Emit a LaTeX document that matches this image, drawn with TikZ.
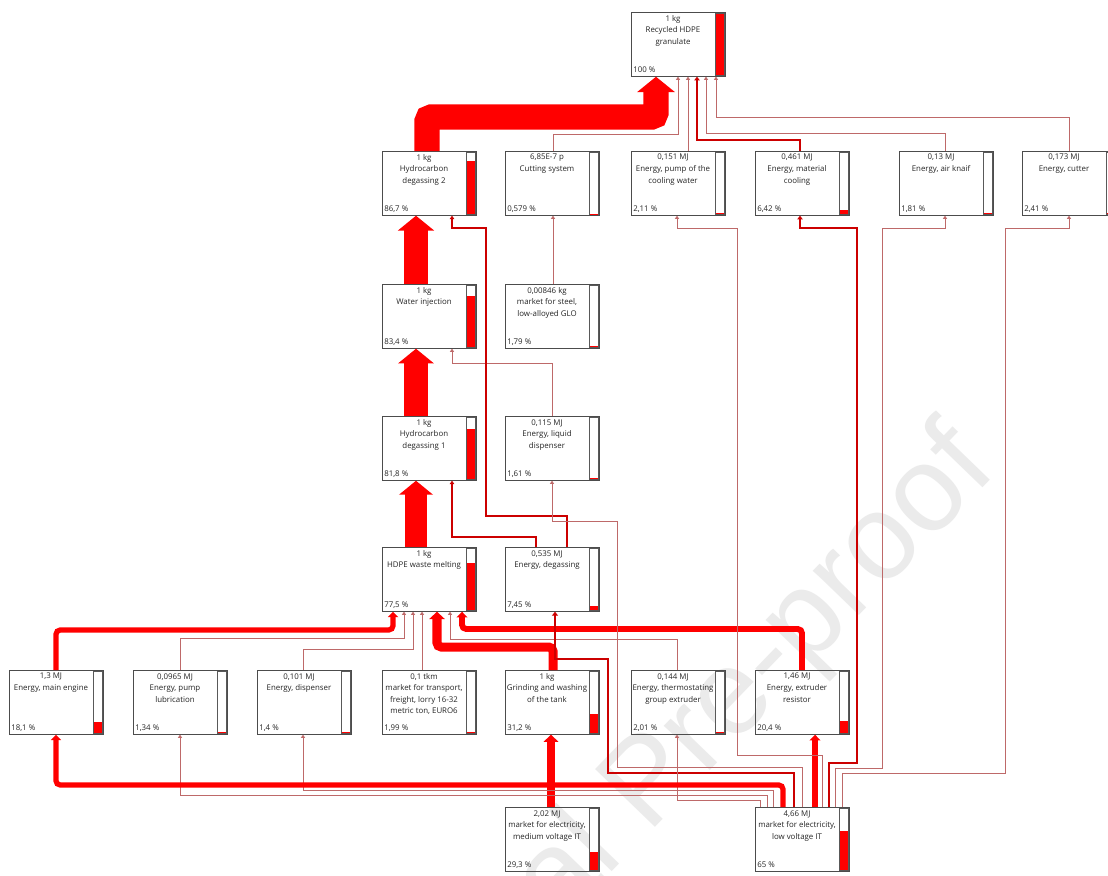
\documentclass[tikz,border=0pt]{standalone}
\usepackage{fontspec}
\setmainfont{Open Sans}
\newfontfamily\wmfont{Liberation Sans}
\usetikzlibrary{arrows.meta,calc}

\begin{document}
\begin{tikzpicture}[x=0.025cm,y=-0.025cm,
  procbox/.style={draw=black!70,line width=0.5pt,minimum width=2.35cm,minimum height=1.6cm,anchor=north west,inner sep=0pt},
  boxtext/.style={anchor=north,inner sep=0pt,align=center,font=\fontsize{5.6}{8.2}\selectfont,text=black!85},
  pcttext/.style={anchor=base west,inner sep=0pt,font=\fontsize{5.6}{8.2}\selectfont,text=black!85},
  barframe/.style={draw=black!65,line width=0.5pt,fill=white},
  flowtip/.style={-{Triangle[length=2pt 0.5,width=2.2pt 1.35]}},
  flowbig/.style={flowtip,draw=red,line width=#1*0.2056pt,rounded corners=3pt},
  flowmid/.style={flowtip,draw=red!80!black,line width=#1*0.2056pt},
  flowthin/.style={flowtip,draw={rgb,255:red,190;green,105;blue,105},line width=0.55pt},
  watermark/.style={anchor=base east,rotate=46,text=black!8,font=\wmfont\fontsize{86}{86}\selectfont}]
  \useasboundingbox (0,0) rectangle (1108,875);
  \clip (0,0) rectangle (1108,875);
  \fill[white] (0,0) rectangle (1108,875);
  \node[watermark] (wm) at (1002,468) {Journal Pre-proof};

  \foreach \n/\x/\y/\txt/\pct/\fr in {
    top/631/12/{1 kg\\Recycled HDPE\\granulate}/{100 \%}/1,
    hd2/382/151/{1 kg\\Hydrocarbon\\degassing 2}/{86,7 \%}/0.867,
    cut/505/151/{6,85E-7 p\\Cutting system}/{0,579 \%}/0.00579,
    pcw/631/151/{0,151 MJ\\Energy, pump of the\\cooling water}/{2,11 \%}/0.0211,
    mco/755/151/{0,461 MJ\\Energy, material\\cooling}/{6,42 \%}/0.0642,
    air/899/151/{0,13 MJ\\Energy, air knaif}/{1,81 \%}/0.0181,
    ctr/1022/151/{0,173 MJ\\Energy, cutter}/{2,41 \%}/0.0241,
    wat/382/284/{1 kg\\Water injection}/{83,4 \%}/0.834,
    stl/505/284/{0,00846 kg\\market for steel,\\low-alloyed GLO}/{1,79 \%}/0.0179,
    hd1/382/416/{1 kg\\Hydrocarbon\\degassing 1}/{81,8 \%}/0.818,
    liq/505/416/{0,115 MJ\\Energy, liquid\\dispenser}/{1,61 \%}/0.0161,
    mel/382/547/{1 kg\\HDPE waste melting}/{77,5 \%}/0.775,
    deg/505/547/{0,535 MJ\\Energy, degassing}/{7,45 \%}/0.0745,
    eng/9/670/{1,3 MJ\\Energy, main engine}/{18,1 \%}/0.181,
    lub/133/670/{0,0965 MJ\\Energy, pump\\lubrication}/{1,34 \%}/0.0134,
    dis/257/670/{0,101 MJ\\Energy, dispenser}/{1,4 \%}/0.014,
    trn/382/670/{0,1 tkm\\market for transport,\\freight, lorry 16-32\\metric ton, EURO6}/{1,99 \%}/0.0199,
    grd/505/670/{1 kg\\Grinding and washing\\of the tank}/{31,2 \%}/0.312,
    thr/631/670/{0,144 MJ\\Energy, thermostating\\group extruder}/{2,01 \%}/0.0201,
    ext/755/670/{1,46 MJ\\Energy, extruder\\resistor}/{20,4 \%}/0.204,
    mvo/505/807/{2,02 MJ\\market for electricity,\\medium voltage IT}/{29,3 \%}/0.293,
    lvo/755/807/{4,66 MJ\\market for electricity,\\low voltage IT}/{65 \%}/0.65}{
    \node[procbox] (\n) at (\x,\y) {};
    \node[boxtext] (\n-t) at ($(\n.north west)+(42,3)$) {\txt};
    \node[pcttext] (\n-p) at ($(\n.south west)+(2,-4)$) {\pct};
    \draw[barframe] ($(\n.north east)+(-10,1.5)$) rectangle ($(\n.south east)+(-1.5,-1.5)$);
    \fill[red] ($(\n.south east)+(-10,-1.5)$) rectangle ($(\n.south east)+(-1.5,-1.5-61*\fr)$);
  }

  \draw[flowbig=86.7] ($(hd2.north west)+(45,0)$) -- ++(0,-34) -| ($(top.south west)+(25,0)$);
  \draw[flowthin] ($(cut.north west)+(48,0)$) -- ++(0,-17) -| ($(top.south west)+(47,0)$);
  \draw[flowthin] ($(pcw.north west)+(57,0)$) -- ($(top.south west)+(57,0)$);
  \draw[flowmid=6.42] ($(mco.north west)+(45,0)$) -- ++(0,-11) -| ($(top.south west)+(66,0)$);
  \draw[flowthin] ($(air.north west)+(46,0)$) -- ++(0,-18) -| ($(top.south west)+(75,0)$);
  \draw[flowthin] ($(ctr.north west)+(47,0)$) -- ++(0,-34) -| ($(top.south west)+(85,0)$);

  \draw[flowbig=83.4] ($(wat.north west)+(34,0)$) -- ($(hd2.south west)+(34,0)$);
  \draw[flowthin] ($(stl.north west)+(48,0)$) -- ($(cut.south west)+(48,0)$);
  \draw[flowbig=81.8] ($(hd1.north west)+(34,0)$) -- ($(wat.south west)+(34,0)$);
  \draw[flowthin] ($(liq.north west)+(47,0)$) -- ++(0,-53) -| ($(wat.south west)+(70,0)$);
  \draw[flowbig=77.5] ($(mel.north west)+(34,0)$) -- ($(hd1.south west)+(34,0)$);
  \draw[flowmid=3.7] ($(deg.north west)+(31,0)$) -- ++(0,-10) -| ($(hd1.south west)+(70,0)$);
  \draw[flowmid=3.7] ($(deg.north west)+(62,0)$) -- ++(0,-31) -- ++(-81,0) -- ++(0,-288) -| ($(hd2.south west)+(70,0)$);

  \draw[flowbig=18.1] ($(eng.north west)+(47,0)$) -- ++(0,-40) -| ($(mel.south west)+(11,0)$);
  \draw[flowthin] ($(lub.north west)+(47,0)$) -- ++(0,-32) -| ($(mel.south west)+(22,0)$);
  \draw[flowthin] ($(dis.north west)+(46,0)$) -- ++(0,-21) -| ($(mel.south west)+(31,0)$);
  \draw[flowthin] ($(trn.north west)+(40,0)$) -- ($(mel.south west)+(40,0)$);
  \draw[flowbig=31.2] ($(grd.north west)+(48,0)$) -- ++(0,-23) -| ($(mel.south west)+(55,0)$);
  \draw[flowthin] ($(thr.north west)+(46,0)$) -- ++(0,-31) -| ($(mel.south west)+(68,0)$);
  \draw[flowbig=20.4] ($(ext.north west)+(47,0)$) -- ++(0,-41) -| ($(mel.south west)+(80,0)$);

  \draw[flowbig=29.3] ($(mvo.north west)+(46,0)$) -- ($(grd.south west)+(46,0)$);
  \draw[flowmid=7.45] ($(lvo.north west)+(39,0)$) -- ++(0,-34) -- ++(-186,0) -- ++(0,-114) -| ($(deg.south west)+(50,0)$);
  \draw[flowthin] ($(lvo.north west)+(47,0)$) -- ++(0,-40) -- ++(-185,0) -- ++(0,-246) -| ($(liq.south west)+(47,0)$);
  \draw[flowthin] ($(lvo.north west)+(5,0)$) -- ++(0,-7) -| ($(thr.south west)+(46,0)$);
  \draw[flowthin] ($(lvo.north west)+(12,0)$) -- ++(0,-12) -| ($(lub.south west)+(47,0)$);
  \draw[flowthin] ($(lvo.north west)+(18,0)$) -- ++(0,-17) -| ($(dis.south west)+(46,0)$);
  \draw[flowbig=18.1] ($(lvo.north west)+(28,0)$) -- ++(0,-22) -| ($(eng.south west)+(47,0)$);
  \draw[flowbig=20.4] ($(lvo.north west)+(60,0)$) -- ($(ext.south west)+(60,0)$);
  \draw[flowthin] ($(lvo.north west)+(67,0)$) -- ++(0,-52) -- ++(-85,0) -- ++(0,-527) -| ($(pcw.south west)+(46,0)$);
  \draw[flowmid=6.42] ($(lvo.north west)+(74,0)$) -- ++(0,-44) -- ++(28,0) -- ++(0,-535) -| ($(mco.south west)+(45,0)$);
  \draw[flowthin] ($(lvo.north west)+(80,0)$) -- ++(0,-39) -- ++(47,0) -- ++(0,-540) -| ($(air.south west)+(46,0)$);
  \draw[flowthin] ($(lvo.north west)+(87,0)$) -- ++(0,-34) -- ++(163,0) -- ++(0,-545) -| ($(ctr.south west)+(47,0)$);
\end{tikzpicture}
\end{document}
